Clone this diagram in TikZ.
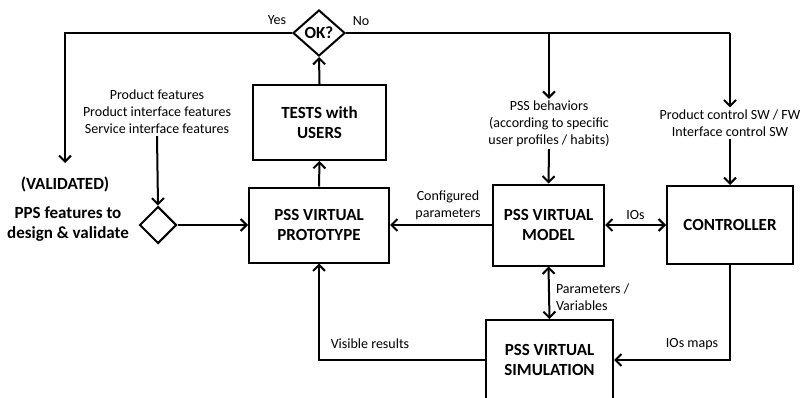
\documentclass[tikz,border=0pt]{standalone}
\usepackage{fontspec}
\setmainfont{Carlito}
\usetikzlibrary{arrows.meta,shapes.geometric,positioning}

\tikzset{
  tip/.tip={Straight Barb[length=6pt,width=12pt]},
  flow/.style={line width=2pt, -tip},
  both/.style={line width=2pt, tip-tip},
  plain/.style={line width=2pt},
  blockbox/.style={draw, line width=2pt, align=center, inner sep=2pt,
    font=\fontsize{17}{20}\selectfont\bfseries},
  note/.style={align=center, inner sep=2pt, font=\fontsize{14}{17}\selectfont},
  boldnote/.style={align=center, inner sep=2pt, font=\fontsize{17}{20}\selectfont\bfseries},
  decision/.style={draw, diamond, line width=2pt, inner sep=0pt}
}

\begin{document}
\begin{tikzpicture}[x=1pt,y=-1pt]
  \useasboundingbox (0,0) rectangle (802,398);

  % decision and blocks
  \node[decision, minimum width=52pt, minimum height=46pt,
        font=\fontsize{17}{20}\selectfont\bfseries] (ok) at (319,33) {OK?};
  \node[blockbox, minimum width=133pt, minimum height=75pt] (tests) at (319.5,122.5) {TESTS with\\USERS};
  \node[blockbox, minimum width=140pt, minimum height=75pt] (proto) at (319,225) {PSS VIRTUAL\\PROTOTYPE};
  \node[blockbox, minimum width=111pt, minimum height=81pt] (model) at (548.5,225) {PSS VIRTUAL\\MODEL};
  \node[blockbox, minimum width=126pt, minimum height=78pt] (ctrl) at (730,225) {CONTROLLER};
  \node[blockbox, minimum width=127pt, minimum height=80pt] (sim) at (549.5,360) {PSS VIRTUAL\\SIMULATION};
  \node[decision, minimum width=37pt, minimum height=37pt] (sd) at (158,225) {};

  % free text
  \node[note] (feat) at (157,112) {Product features\\Product interface features\\Service interface features};
  \node[note] (behav) at (549,124) {PSS behaviors\\(according to specific\\user profiles / habits)};
  \node[note] (ctrlsw) at (730,123) {Product control SW / FW\\Interface control SW};
  \node[boldnote] (valid) at (65,184) {(VALIDATED)};
  \node[boldnote] (pps) at (68,224) {PPS features to\\design \& validate};
  \node[note] (yes) at (277,20) {Yes};
  \node[note] (no) at (361,21) {No};

  % routing points
  \coordinate (yescorner) at (65,33);
  \coordinate (yesend) at (65,163);
  \coordinate (behavtop) at (549,33);
  \coordinate (ctrltop) at (730,33);
  \coordinate (vis) at (319,360);
  \coordinate (iocorner) at (730,360);

  % test loop
  \draw[flow] (proto.north) -- (tests.south);
  \draw[flow] (tests.north) -- (ok.south);
  \draw[flow] (ok.west) -- (yescorner) -- (yesend);
  \draw[plain] (ok.east) -- (ctrltop);
  \draw[flow] (behavtop) -- (behav.north);
  \draw[flow] (ctrltop) -- (ctrlsw.north);

  % inputs
  \draw[flow] (feat.south) -- (sd.north);
  \draw[flow] (sd.east) -- (proto.west);
  \draw[flow] (behav.south) -- (model.north);
  \draw[flow] (ctrlsw.south) -- (ctrl.north);

  % model links
  \draw[flow] (model.west) -- (model.west -| proto.east)
    node[note, midway, above=2pt, xshift=7pt] {Configured\\parameters};
  \draw[both] (model.east) -- (ctrl.west)
    node[note, midway, above=2pt] {IOs};
  \draw[both] (model.south) -- (sim.north)
    node[note, midway, right=4pt, yshift=-4pt, align=left] {Parameters /\\Variables};

  % simulation feedback
  \draw[flow] (sim.west) -- (vis) -- (proto.south);
  \node[note] at (370,344) {Visible results};
  \draw[flow] (ctrl.south) -- (iocorner) -- (sim.east);
  \node[note] at (692,344) {IOs maps};
\end{tikzpicture}
\end{document}
